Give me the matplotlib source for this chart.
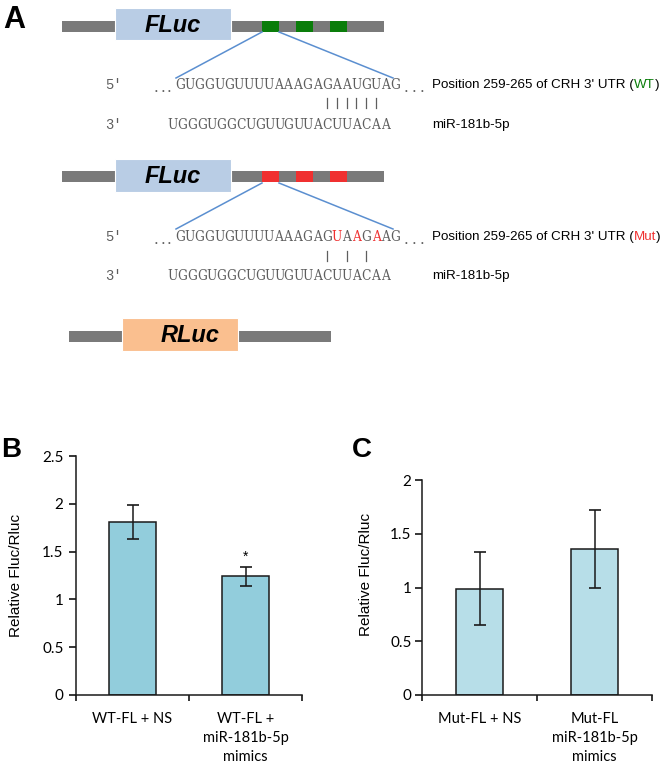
import matplotlib.pyplot as plt
from matplotlib.patches import Rectangle

plt.rcParams['font.family'] = ['Liberation Sans', 'DejaVu Sans']

# panel B: wild-type reporter
wt_groups = ['WT-FL + NS', 'WT-FL +\nmiR-181b-5p\nmimics']
wt_mean = [1.81, 1.24]
wt_err = [0.18, 0.10]
wt_sig = ['', '*']

# panel C: mutant reporter
mut_groups = ['Mut-FL + NS', 'Mut-FL\nmiR-181b-5p\nmimics']
mut_mean = [0.99, 1.36]
mut_err = [0.34, 0.365]

# panel A: sequences
wt_site = 'GUGGUGUUUUAAAGAGAAUGUAG'
mut_site = 'GUGGUGUUUUAAAGAGUAAGAAG'
mir_seq = 'UGGGUGGCUGUUGUUACUUACAA'
mut_idx = [16, 18, 20]
wt_pairs = [15, 16, 17, 18, 19, 20]
mut_pairs = [15, 17, 19]

W, H = 661, 764
fig = plt.figure(figsize=(W / 100, H / 100), dpi=100)

NOTE_SIZE = 9.6

# ---------- panel A, drawn in pixel space ----------
ax0 = fig.add_axes([0, 0, 1, 1])
ax0.set_xlim(0, W)
ax0.set_ylim(H, 0)
ax0.axis('off')

GRAY = '#7a7a7a'
SEQ = '#5e5e5e'
BLUE = '#5b8fd0'
GREEN = '#0a7d0a'
RED = '#f03030'
cw_top, cw_bot = 9.8, 9.64
x_top, x_bot = 180, 173


def construct(y_bar, y_box, box_h, boxcol, label, sites, x_bar=(62, 384), x_box=(115, 231), label_x=None):
    ax0.add_patch(Rectangle((x_bar[0], y_bar), x_bar[1] - x_bar[0], 11, color=GRAY, lw=0))
    ax0.add_patch(Rectangle((x_box[0], y_box), x_box[1] - x_box[0], box_h, fc=boxcol, ec='white', lw=0.8))
    lx = label_x if label_x else (x_box[0] + x_box[1]) / 2
    ax0.text(lx, y_box + box_h / 2 + 1, label, fontsize=17, fontweight='bold', fontstyle='italic',
             ha='center', va='center')
    for xs, col in sites:
        ax0.add_patch(Rectangle((xs, y_bar), 17, 11, color=col, lw=0))


def seq_line(y, seq, red=(), dots=True, x0=x_top, cw=cw_top):
    for i, ch in enumerate(seq):
        ax0.text(x0 + i * cw, y, ch, fontsize=9.8, family='DejaVu Serif', fontstretch='condensed',
                 color=RED if i in red else SEQ, ha='center', va='center')
    if dots:
        xe = x0 + (len(seq) - 1) * cw
        for k in range(3):
            ax0.text(156 + k * 6.5, y + 3, '.', fontsize=11, family='DejaVu Serif', color=SEQ,
                     ha='center', va='center')
            ax0.text(xe + 10.5 + k * 8, y + 3, '.', fontsize=11,
                     family='DejaVu Serif', color=SEQ, ha='center', va='center')


def chain(x, y, parts):
    t = ax0.text(x, y, parts[0][0], color=parts[0][1], fontsize=NOTE_SIZE, va='baseline', ha='left')
    for s, c in parts[1:]:
        t = ax0.annotate(s, xy=(1, 0), xycoords=t, color=c, fontsize=NOTE_SIZE, va='bottom', ha='left')


def site_block(y_seq, y_bars, y_mir, y_note, site, red, pairs, tag, tagcol):
    ax0.text(105, y_seq, "5'", family='Liberation Mono', fontsize=10, color=SEQ, va='center')
    ax0.text(105, y_mir, "3'", family='Liberation Mono', fontsize=10, color=SEQ, va='center')
    seq_line(y_seq, site, red)
    seq_line(y_mir, mir_seq, dots=False, x0=x_bot, cw=cw_bot)
    for i in pairs:
        xb = x_top + i * cw_top
        ax0.plot([xb, xb], y_bars, color=SEQ, lw=0.9)
    chain(432, y_note, [("Position 259-265 of CRH 3' UTR (", 'black'), (tag, tagcol), (')', 'black')])
    ax0.text(432, y_mir, 'miR-181b-5p', fontsize=NOTE_SIZE, va='center')


site_x = [262, 296, 330]

# WT construct
construct(21, 8, 32, '#b9cde5', 'FLuc', [(x, GREEN) for x in site_x])
ax0.plot([262, 176], [32, 78], color=BLUE, lw=1.1)
ax0.plot([279, 393], [32, 78], color=BLUE, lw=1.1)
site_block(85, [98, 108], 125, 88, wt_site, (), wt_pairs, 'WT', GREEN)

# mutant construct
construct(171, 159, 33, '#b9cde5', 'FLuc', [(x, RED) for x in site_x])
ax0.plot([262, 176], [183, 229], color=BLUE, lw=1.1)
ax0.plot([279, 393], [183, 229], color=BLUE, lw=1.1)
site_block(237, [251, 261], 276, 240, mut_site, mut_idx, mut_pairs, 'Mut', RED)

# Renilla control
construct(331, 318, 33, '#fabf8f', 'RLuc', [], x_bar=(69, 331), x_box=(122, 238), label_x=190)

ax0.text(3, 28, 'A', fontsize=22, fontweight='bold')
ax0.text(1, 457, 'B', fontsize=20, fontweight='bold')
ax0.text(352, 457, 'C', fontsize=20, fontweight='bold')


# ---------- panels B and C ----------
def bar_panel(rect, groups, mean, err, color, ymax, ystep, label_x, label_y, ypad, sig=None):
    ax = fig.add_axes(rect)
    x = range(len(groups))
    ax.bar(x, mean, width=0.41, color=color, edgecolor='#1a1a1a', linewidth=1.1, zorder=2)
    ax.errorbar(x, mean, yerr=err, fmt='none', ecolor='#1a1a1a', elinewidth=1.1, capsize=4.5,
                capthick=1.2, zorder=3)
    if sig:
        for i, s in enumerate(sig):
            if s:
                ax.text(i, mean[i] + err[i] + 0.03, s, ha='center', va='bottom', fontsize=10)
    ax.set_xlim(-0.5, 1.5)
    ax.set_ylim(0, ymax)
    ticks = [k * ystep for k in range(int(round(ymax / ystep)) + 1)]
    ax.set_yticks(ticks, [f'{t:g}' for t in ticks])
    ax.set_xticks(list(x), groups)
    ax.set_xticks([-0.5, 0.5, 1.5], minor=True)
    ax.tick_params(axis='x', which='major', length=0, pad=12)
    ax.tick_params(axis='x', which='minor', length=4, width=1.1, direction='out')
    ax.tick_params(axis='y', length=5, width=1.1, direction='out', pad=ypad)
    for lab in ax.get_xticklabels():
        lab.set_family(['Lato', 'DejaVu Sans'])
        lab.set_fontsize(10.5)
        lab.set_linespacing(1.45)
    for lab in ax.get_yticklabels():
        lab.set_family(['Lato', 'DejaVu Sans'])
        lab.set_fontsize(11)
    for s in ['top', 'right']:
        ax.spines[s].set_visible(False)
    for s in ['left', 'bottom']:
        ax.spines[s].set_linewidth(1.1)
        ax.spines[s].set_color('#1a1a1a')
    ax.set_ylabel('Relative Fluc/Rluc', fontsize=11)
    ax.yaxis.set_label_coords(label_x, label_y)
    return ax


bar_panel([76 / W, 69 / H, 226 / W, 239 / H], wt_groups, wt_mean, wt_err, '#92cddc', 2.5, 0.5,
          -0.235, 0.5, 4, wt_sig)
bar_panel([422 / W, 69 / H, 230 / W, 215 / H], mut_groups, mut_mean, mut_err, '#b7dee8', 2.0, 0.5,
          -0.213, 0.56, 2.5)

fig.savefig('out.png', dpi=100)
